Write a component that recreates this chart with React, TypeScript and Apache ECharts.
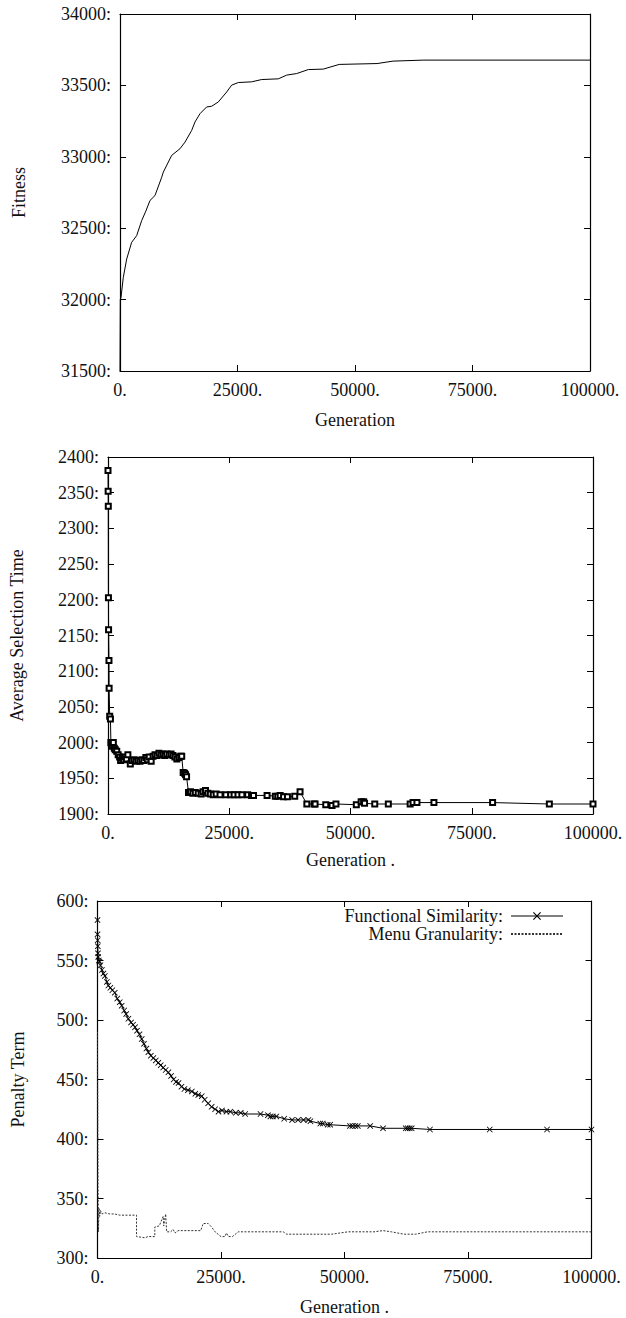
import React, { useEffect, useRef } from "react";
import * as echarts from "echarts";

// ---------- Data ----------
const X_MIN = 0;
const X_MAX = 100000;
const X_STEP = 25000;

// Chart 1: Fitness vs Generation
const FIT_GEN = [0, 60, 213, 700, 1420, 2480, 3550, 4610, 5500, 6380, 7450, 8870, 9220, 11000, 12770, 13830, 15250, 15960, 17020, 18440, 19500, 20920, 22700, 23760, 25180, 28010, 30140, 33690, 35460, 37590, 40070, 43250, 46640, 54700, 58100, 64500, 100000];
const FIT_VAL = [31500, 32000, 32015, 32155, 32284, 32401, 32448, 32553, 32620, 32694, 32729, 32857, 32893, 33010, 33057, 33103, 33185, 33244, 33302, 33349, 33354, 33384, 33454, 33502, 33520, 33525, 33541, 33546, 33572, 33583, 33611, 33614, 33647, 33653, 33670, 33677, 33677];

// Chart 2: Average Selection Time vs Generation
const AST_GEN = [0, 30, 60, 90, 120, 200, 230, 350, 500, 600, 700, 900, 1100, 1300, 1500, 1800, 2100, 2400, 2600, 2900, 3200, 3500, 3800, 4100, 4600, 5000, 5400, 5800, 6200, 6600, 7000, 7400, 7800, 8100, 8500, 8900, 9300, 9700, 10100, 10500, 10900, 11300, 11700, 12100, 12600, 13000, 13400, 13800, 14200, 14600, 15000, 15200, 15500, 15800, 16000, 16200, 16600, 17000, 17500, 18000, 18600, 19200, 19600, 20100, 20600, 21100, 21700, 22300, 23100, 24300, 25300, 26000, 26800, 27600, 28800, 29600, 30000, 32800, 34500, 35000, 35500, 36200, 37000, 38500, 39600, 41000, 42500, 42700, 44900, 46200, 47000, 51200, 52200, 52700, 52900, 55000, 57800, 62300, 62900, 63700, 67200, 79300, 91000, 100000];
const AST_VAL = [2381, 2352, 2331, 2203, 2158, 2115, 2076, 2037, 2033, 2000, 1998, 1995, 2000, 1992, 1990, 1988, 1983, 1980, 1975, 1978, 1976, 1980, 1977, 1983, 1970, 1975, 1976, 1974, 1975, 1974, 1976, 1975, 1979, 1976, 1980, 1974, 1981, 1983, 1982, 1985, 1983, 1984, 1982, 1984, 1983, 1984, 1982, 1980, 1977, 1979, 1981, 1981, 1958, 1957, 1955, 1952, 1930, 1931, 1929, 1930, 1929, 1928, 1931, 1933, 1929, 1928, 1927, 1928, 1927, 1927, 1927, 1927, 1927, 1927, 1927, 1926, 1926, 1926, 1925, 1925, 1926, 1924, 1924, 1925, 1931, 1914, 1914, 1914, 1913, 1912, 1914, 1913, 1917, 1917, 1915, 1914, 1914, 1914, 1916, 1916, 1916, 1916, 1914, 1914, 1914];

// Chart 3: Penalty terms vs Generation
const FS_GEN = [0, 0, 30, 60, 100, 150, 250, 400, 600, 900, 1200, 1500, 1900, 2200, 2600, 3000, 3500, 4000, 4500, 4900, 5400, 5800, 6250, 6800, 7200, 7600, 8000, 8500, 8950, 9400, 9900, 10300, 10800, 11300, 11800, 12300, 12800, 13300, 13800, 14350, 14900, 15400, 15900, 16400, 17000, 17600, 18300, 19100, 19800, 20400, 21100, 21700, 22400, 23100, 23800, 24500, 25200, 26100, 26900, 28000, 29000, 29900, 33000, 34500, 35000, 35500, 36200, 37800, 39400, 40600, 41700, 42700, 43100, 45100, 45600, 46600, 47100, 51100, 51600, 52200, 52700, 55200, 57800, 62400, 62800, 63200, 63600, 67300, 79400, 91000, 100000];
const FS_VAL = [584, 572, 567, 562, 556, 553, 550, 549, 546, 542, 539, 537, 532, 529, 527, 525, 523, 518, 515, 512, 508, 505, 501, 498, 496, 494, 491, 488, 484, 480, 476, 473, 470, 468, 466, 464, 462, 460, 458, 456, 453, 450, 448, 447, 444, 442, 441, 440, 438, 437, 436, 433, 430, 427, 425, 423, 424, 423, 423, 422, 422, 421, 421, 420, 419, 419, 419, 417, 416, 416, 416, 416, 415, 413, 413, 412, 412, 411, 411, 411, 411, 411, 409, 409, 409, 409, 409, 408, 408, 408, 408];

const MG_GEN = [0, 100, 200, 300, 450, 600, 900, 1500, 2500, 3500, 4500, 5500, 7900, 7900, 9600, 10200, 11600, 11600, 12500, 13300, 13400, 13800, 14000, 14800, 15300, 15700, 16300, 20900, 21400, 22400, 23100, 23800, 25000, 25800, 26100, 26500, 27300, 28500, 37600, 38300, 47400, 50700, 56000, 57800, 59500, 62000, 64400, 66800, 100000];
const MG_VAL = [490, 360, 322, 342, 335, 340, 337, 338, 337, 337, 336, 336, 336, 318, 317, 318, 318, 326, 327, 335, 327, 337, 322, 322, 324, 321, 323, 323, 329, 329, 326, 322, 318, 318, 321, 318, 318, 322, 322, 320, 320, 322, 322, 323, 322, 320, 320, 322, 322];

const SERIES_NAMES = ["Functional Similarity", "Menu Granularity"];
const Y_TITLES = ["Fitness", "Average Selection Time", "Penalty Term"];
const X_TITLES = ["Generation", "Generation .", "Generation ."];
const Y_RANGES = [
  [31500, 34000, 500],
  [1900, 2400, 50],
  [300, 600, 50],
];

const FONT = "'Liberation Serif', 'Times New Roman', 'DejaVu Serif', serif";
const X_MARK = "path://M0,1L1,0L5,4L9,0L10,1L6,5L10,9L9,10L5,6L1,10L0,9L4,5Z";

function zip(a: number[], b: number[]) {
  return a.map((x, i) => [x, b[i]]);
}

export default function App() {
  const ref = useRef<HTMLDivElement>(null);

  useEffect(() => {
    if (!ref.current) return;
    const chart = echarts.init(ref.current, null, { renderer: "svg" });

    const grids = [
      { left: 120, top: 14, width: 470, height: 357 },
      { left: 108, top: 457, width: 485, height: 357 },
      { left: 97.5, top: 901, width: 494, height: 357 },
    ];
    const yNameGaps = [92, 82, 71];
    const xNameGaps = [40, 37, 40];

    const axisLine = { show: true, onZero: false, lineStyle: { color: "#000", width: 1.2 } };
    const axisTick = { show: true, inside: true, length: 6, lineStyle: { color: "#000", width: 1 } };
    const textStyle = { color: "#111", fontFamily: FONT, fontSize: 18 };

    const xAxis: any[] = [];
    const yAxis: any[] = [];
    grids.forEach((_, gi) => {
      xAxis.push({
        type: "value",
        gridIndex: gi,
        position: "bottom",
        min: X_MIN,
        max: X_MAX,
        interval: X_STEP,
        axisLine,
        axisTick,
        splitLine: { show: false },
        axisLabel: {
          ...textStyle,
          margin: 10,
          showMinLabel: true,
          showMaxLabel: true,
          formatter: (v: number) => `${v}.`,
        },
        name: X_TITLES[gi],
        nameLocation: "middle",
        nameGap: xNameGaps[gi],
        nameTextStyle: textStyle,
      });
      xAxis.push({
        type: "value",
        gridIndex: gi,
        position: "top",
        min: X_MIN,
        max: X_MAX,
        interval: X_STEP,
        axisLine,
        axisTick,
        splitLine: { show: false },
        axisLabel: { show: false },
      });
      const [ymin, ymax, ystep] = Y_RANGES[gi];
      yAxis.push({
        type: "value",
        gridIndex: gi,
        position: "left",
        min: ymin,
        max: ymax,
        interval: ystep,
        axisLine,
        axisTick,
        splitLine: { show: false },
        axisLabel: {
          ...textStyle,
          margin: 9,
          showMinLabel: true,
          showMaxLabel: true,
          formatter: (v: number) => `${v}:`,
        },
        name: Y_TITLES[gi],
        nameLocation: "middle",
        nameGap: yNameGaps[gi],
        nameTextStyle: textStyle,
      });
      yAxis.push({
        type: "value",
        gridIndex: gi,
        position: "right",
        min: ymin,
        max: ymax,
        interval: ystep,
        axisLine,
        axisTick,
        splitLine: { show: false },
        axisLabel: { show: false },
      });
    });

    const option: any = {
      animation: false,
      backgroundColor: "#fff",
      grid: grids,
      xAxis,
      yAxis,
      legend: {
        data: [
          { name: SERIES_NAMES[0], lineStyle: { width: 1 } },
          { name: SERIES_NAMES[1], itemStyle: { opacity: 0 } },
        ],
        orient: "vertical",
        align: "right",
        right: 57,
        top: 902,
        itemWidth: 52,
        itemHeight: 10,
        itemGap: 0,
        formatter: (n: string) => `${n}:`,
        textStyle: { ...textStyle, lineHeight: 18, padding: [0, 3, 0, 0] },
        selectedMode: false,
      },
      series: [
        {
          name: "Fitness",
          type: "line",
          xAxisIndex: 0,
          yAxisIndex: 0,
          data: zip(FIT_GEN, FIT_VAL),
          symbol: "none",
          lineStyle: { color: "#000", width: 1 },
        },
        {
          name: "Average Selection Time",
          type: "line",
          xAxisIndex: 2,
          yAxisIndex: 2,
          data: zip(AST_GEN, AST_VAL),
          symbol: "emptyRect",
          symbolSize: 5,
          itemStyle: { color: "#000", borderWidth: 0.8 },
          lineStyle: { color: "#000", width: 1 },
        },
        {
          name: SERIES_NAMES[0],
          type: "line",
          xAxisIndex: 4,
          yAxisIndex: 4,
          data: zip(FS_GEN, FS_VAL),
          symbol: X_MARK,
          symbolSize: 6,
          itemStyle: { color: "#000" },
          lineStyle: { color: "#000", width: 1 },
        },
        {
          name: SERIES_NAMES[1],
          type: "line",
          xAxisIndex: 4,
          yAxisIndex: 4,
          data: zip(MG_GEN, MG_VAL),
          symbol: "none",
          itemStyle: { color: "#333" },
          lineStyle: { color: "#333", width: 1, type: [2, 1.5] },
        },
      ],
    };

    chart.setOption(option);
    return () => chart.dispose();
  }, []);

  return (
    <div
      ref={ref}
      style={{ position: "absolute", left: 0, top: 0, width: 626, height: 1318, background: "#fff" }}
    />
  );
}
